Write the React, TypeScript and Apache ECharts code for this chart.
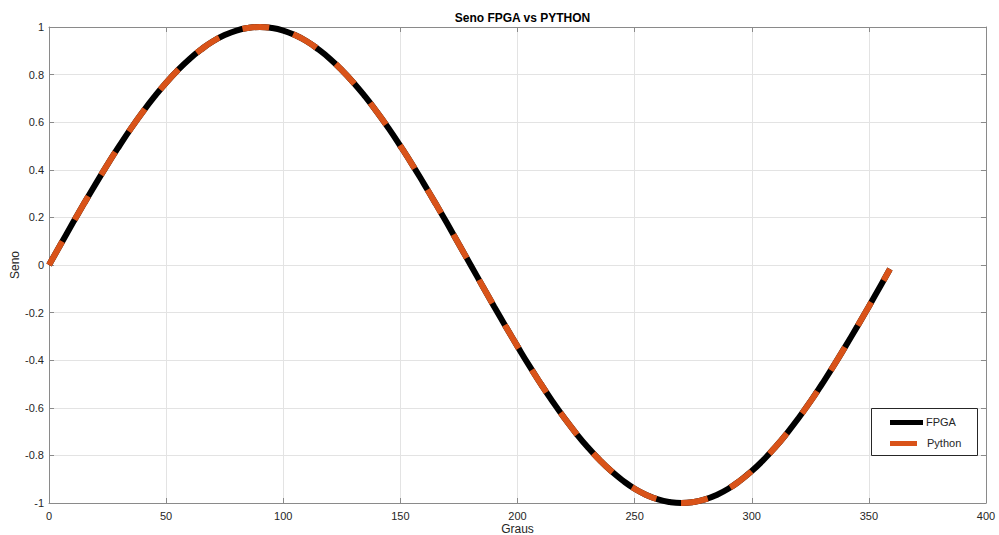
import React, { useEffect, useRef } from "react";
import * as echarts from "echarts";

const degrees: number[] = [
  0, 5, 10, 15, 20, 25, 30, 35, 40, 45, 50, 55, 60, 65, 70, 75, 80, 85, 90,
  95, 100, 105, 110, 115, 120, 125, 130, 135, 140, 145, 150, 155, 160, 165, 170, 175, 180,
  185, 190, 195, 200, 205, 210, 215, 220, 225, 230, 235, 240, 245, 250, 255, 260, 265, 270,
  275, 280, 285, 290, 295, 300, 305, 310, 315, 320, 325, 330, 335, 340, 345, 350, 355, 359,
];

const fpgaValues: number[] = [
  0, 0.087, 0.174, 0.259, 0.342, 0.423, 0.5, 0.574, 0.643, 0.707, 0.766, 0.819, 0.866, 0.906, 0.94, 0.966, 0.985, 0.996, 1,
  0.996, 0.985, 0.966, 0.94, 0.906, 0.866, 0.819, 0.766, 0.707, 0.643, 0.574, 0.5, 0.423, 0.342, 0.259, 0.174, 0.087, 0,
  -0.087, -0.174, -0.259, -0.342, -0.423, -0.5, -0.574, -0.643, -0.707, -0.766, -0.819, -0.866, -0.906, -0.94, -0.966, -0.985, -0.996, -1,
  -0.996, -0.985, -0.966, -0.94, -0.906, -0.866, -0.819, -0.766, -0.707, -0.643, -0.574, -0.5, -0.423, -0.342, -0.259, -0.174, -0.087, -0.017,
];

const pythonValues: number[] = [
  0, 0.087, 0.174, 0.259, 0.342, 0.423, 0.5, 0.574, 0.643, 0.707, 0.766, 0.819, 0.866, 0.906, 0.94, 0.966, 0.985, 0.996, 1,
  0.996, 0.985, 0.966, 0.94, 0.906, 0.866, 0.819, 0.766, 0.707, 0.643, 0.574, 0.5, 0.423, 0.342, 0.259, 0.174, 0.087, 0,
  -0.087, -0.174, -0.259, -0.342, -0.423, -0.5, -0.574, -0.643, -0.707, -0.766, -0.819, -0.866, -0.906, -0.94, -0.966, -0.985, -0.996, -1,
  -0.996, -0.985, -0.966, -0.94, -0.906, -0.866, -0.819, -0.766, -0.707, -0.643, -0.574, -0.5, -0.423, -0.342, -0.259, -0.174, -0.087, -0.017,
];

const seriesNames = ["FPGA", "Python"];
const titleText = "Seno FPGA vs PYTHON";
const xName = "Graus";
const yName = "Seno";

const FONT = "'Liberation Sans', Arial, Helvetica, sans-serif";
const AXIS_COLOR = "#8a8a8a";
const LABEL_COLOR = "#262626";
const GRID_COLOR = "#e3e3e3";
const ORANGE = "#D95319";

export default function App() {
  const ref = useRef<HTMLDivElement>(null);

  useEffect(() => {
    if (!ref.current) return;
    const chart = echarts.init(ref.current, undefined, { renderer: "svg" });

    const fpgaData = degrees.map((d, i) => [d, fpgaValues[i]]);
    const pythonData = degrees.map((d, i) => [d, pythonValues[i]]);

    const baseAxisLine = { show: true, onZero: false, lineStyle: { color: AXIS_COLOR, width: 1 } };
    const baseTick = { show: true, inside: true, length: 5, lineStyle: { color: AXIS_COLOR, width: 1 } };

    const legendLeft = 871;
    const legendTop = 408;

    chart.setOption({
      animation: false,
      backgroundColor: "#ffffff",
      title: {
        text: titleText,
        left: 517.5,
        textAlign: "center",
        top: 7,
        textStyle: { fontFamily: FONT, fontSize: 12, fontWeight: "bold", color: "#000" },
      },
      grid: { left: 49, right: 13, top: 27, bottom: 32, containLabel: false, outerBoundsMode: "none" },
      xAxis: [
        {
          type: "value",
          min: 0,
          max: 400,
          interval: 50,
          position: "bottom",
          name: xName,
          nameLocation: "middle",
          nameGap: 20,
          nameMoveOverlap: false,
          nameTextStyle: { fontFamily: FONT, fontSize: 12, color: LABEL_COLOR },
          axisLine: baseAxisLine,
          axisTick: baseTick,
          axisLabel: { fontFamily: FONT, fontSize: 11, color: LABEL_COLOR, margin: 7 },
          splitLine: { show: true, lineStyle: { color: GRID_COLOR, width: 1 } },
        },
        {
          type: "value",
          min: 0,
          max: 400,
          interval: 50,
          position: "top",
          axisLine: baseAxisLine,
          axisTick: baseTick,
          axisLabel: { show: false },
          splitLine: { show: false },
        },
      ],
      yAxis: [
        {
          type: "value",
          min: -1,
          max: 1,
          interval: 0.2,
          position: "left",
          name: yName,
          nameLocation: "middle",
          nameGap: 28,
          nameMoveOverlap: false,
          nameTextStyle: { fontFamily: FONT, fontSize: 12, color: LABEL_COLOR },
          axisLine: baseAxisLine,
          axisTick: baseTick,
          axisLabel: {
            fontFamily: FONT,
            fontSize: 11,
            color: LABEL_COLOR,
            margin: 5,
            formatter: (v: number) => {
              const r = Math.round(v * 10) / 10;
              return r === 0 ? "0" : String(r);
            },
          },
          splitLine: { show: true, lineStyle: { color: GRID_COLOR, width: 1 } },
        },
        {
          type: "value",
          min: -1,
          max: 1,
          interval: 0.2,
          position: "right",
          axisLine: baseAxisLine,
          axisTick: baseTick,
          axisLabel: { show: false },
          splitLine: { show: false },
        },
      ],
      series: [
        {
          name: seriesNames[0],
          type: "line",
          xAxisIndex: 0,
          yAxisIndex: 0,
          data: fpgaData,
          smooth: true,
          showSymbol: false,
          symbol: "none",
          lineStyle: { color: "#000000", width: 6, cap: "butt" },
          z: 2,
        },
        {
          name: seriesNames[1],
          type: "line",
          xAxisIndex: 0,
          yAxisIndex: 0,
          data: pythonData,
          smooth: true,
          showSymbol: false,
          symbol: "none",
          lineStyle: { color: ORANGE, width: 6, type: [27, 25], cap: "butt" },
          z: 3,
        },
      ],
      graphic: [
        {
          type: "rect",
          left: legendLeft,
          top: legendTop,
          shape: { width: 106, height: 47 },
          style: { fill: "#ffffff", stroke: "#262626", lineWidth: 1 },
          z: 10,
        },
        {
          type: "rect",
          left: legendLeft + 19,
          top: legendTop + 12,
          shape: { width: 33, height: 5 },
          style: { fill: "#000000" },
          z: 11,
        },
        {
          type: "text",
          left: legendLeft + 55,
          top: legendTop + 8,
          style: { text: seriesNames[0], fontFamily: FONT, fontSize: 11, fill: LABEL_COLOR },
          z: 11,
        },
        {
          type: "rect",
          left: legendLeft + 19,
          top: legendTop + 33,
          shape: { width: 27, height: 5 },
          style: { fill: ORANGE },
          z: 11,
        },
        {
          type: "text",
          left: legendLeft + 56,
          top: legendTop + 29,
          style: { text: seriesNames[1], fontFamily: FONT, fontSize: 11, fill: LABEL_COLOR },
          z: 11,
        },
      ],
    });

    return () => chart.dispose();
  }, []);

  return (
    <div
      ref={ref}
      style={{ position: "fixed", left: 0, top: 0, width: 999, height: 535, background: "#fff" }}
    />
  );
}
